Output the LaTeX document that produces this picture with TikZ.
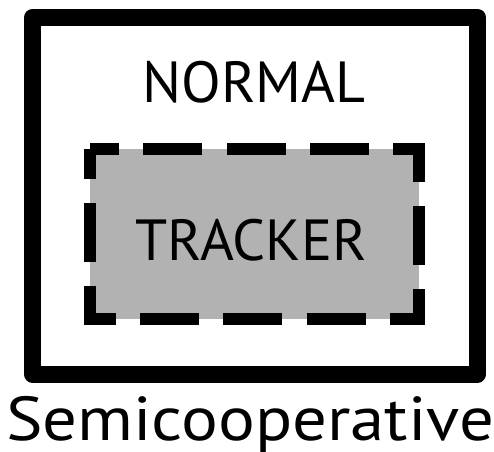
\documentclass[tikz,border=0pt]{standalone}
\usepackage{fontspec}
\setmainfont{PT Sans}
\tikzstyle{every node}=[inner sep=0pt,anchor=base]
\tikzstyle{modetext}=[font=\fontsize{58}{60}\selectfont]

\begin{document}
\begin{tikzpicture}[x=1pt,y=-1pt]
  \useasboundingbox (0,0) rectangle (494,451);
  % outer box, normal mode
  \draw[line width=17pt,line join=round] (32.5,17.5) rectangle (477.5,374);
  % inner dashed box, tracker mode
  \draw[line width=12pt,fill=black!30,dash pattern=on 59pt off 24.1pt,dash phase=29.5pt]
    (90,149) rectangle (419,318.5);
  \node[modetext] (normal) at (254,102) {NORMAL};
  \node[modetext] (tracker) at (251,260) {TRACKER};
  \node[font=\fontsize{62}{64}\selectfont,xscale=1.11] (semi) at (250,440) {Semicooperative};
\end{tikzpicture}
\end{document}
